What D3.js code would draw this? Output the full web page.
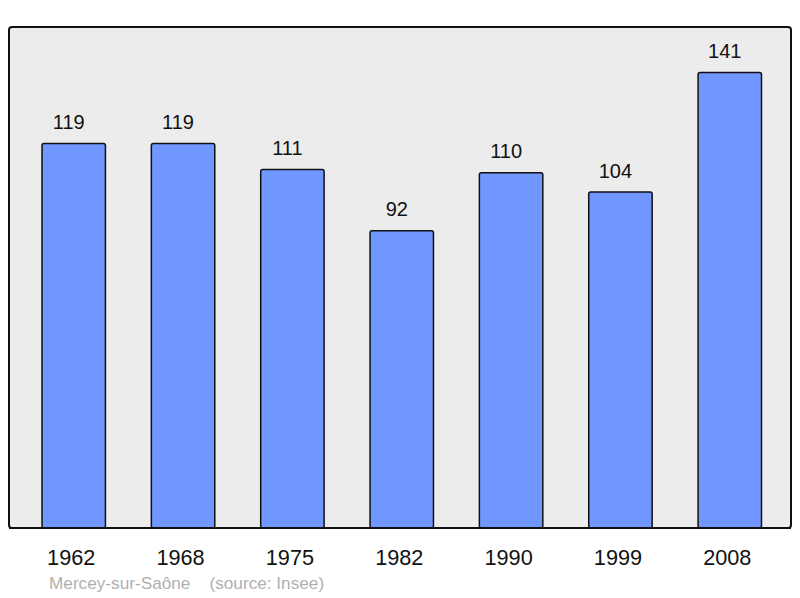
<!DOCTYPE html>
<html><head><meta charset="utf-8">
<script src="https://cdn.jsdelivr.net/npm/d3@7"></script>
<style>body{margin:0;background:#fff}svg{display:block}</style>
</head><body>
<svg id="c" width="800" height="598"></svg>
<script>
const years = ["1962","1968","1975","1982","1990","1999","2008"];
const population = [119,119,111,92,110,104,141];
const caption = "Mercey-sur-Saône    (source: Insee)";

const svg = d3.select("#c");
const frame = {x0:9, y0:27, x1:791, y1:528};
svg.append("rect").attr("x",frame.x0).attr("y",frame.y0)
  .attr("width",frame.x1-frame.x0).attr("height",frame.y1-frame.y0)
  .attr("rx",3).attr("fill","#ececec").attr("stroke","#111").attr("stroke-width",2);

const x = d3.scaleBand().domain(years).range([42,761.5]).paddingInner(0.42).paddingOuter(0);
const y = d3.scaleLinear().domain([0, d3.max(population)*1.1]).range([frame.y1, frame.y0]);

const g = svg.append("g");
g.selectAll("rect.bar").data(years).join("rect").attr("class","bar")
  .attr("x",d=>x(d)).attr("y",(d,i)=>y(population[i]))
  .attr("width",x.bandwidth()).attr("height",(d,i)=>frame.y1-y(population[i]))
  .attr("rx",2).attr("fill","#7096ff").attr("stroke","#111").attr("stroke-width",1.5);

g.selectAll("text.val").data(years).join("text").attr("class","val")
  .attr("x",d=>x(d)+x.bandwidth()/2-5).attr("y",(d,i)=>y(population[i])-14.5)
  .attr("text-anchor","middle").attr("font-family","Liberation Sans, Arial, sans-serif")
  .attr("font-size",20).attr("fill","#111").text((d,i)=>population[i]);

svg.append("line").attr("x1",frame.x0).attr("x2",frame.x1).attr("y1",frame.y1).attr("y2",frame.y1)
  .attr("stroke","#111").attr("stroke-width",2);

const ax = svg.append("g").attr("transform",`translate(-2.5,${frame.y1})`)
  .call(d3.axisBottom(x).tickSize(0).tickPadding(0));
ax.select(".domain").remove();
ax.selectAll("text").attr("dy",null).attr("y",36.5).attr("font-family","Liberation Sans, Arial, sans-serif").attr("font-size",21.7).attr("fill","#111");

svg.append("text").attr("x",49).attr("y",589).attr("font-family","Liberation Sans, Arial, sans-serif")
  .attr("font-size",17.2).attr("fill","#b0b0b0").attr("xml:space","preserve").style("white-space","pre").text(caption);
</script>
</body></html>
